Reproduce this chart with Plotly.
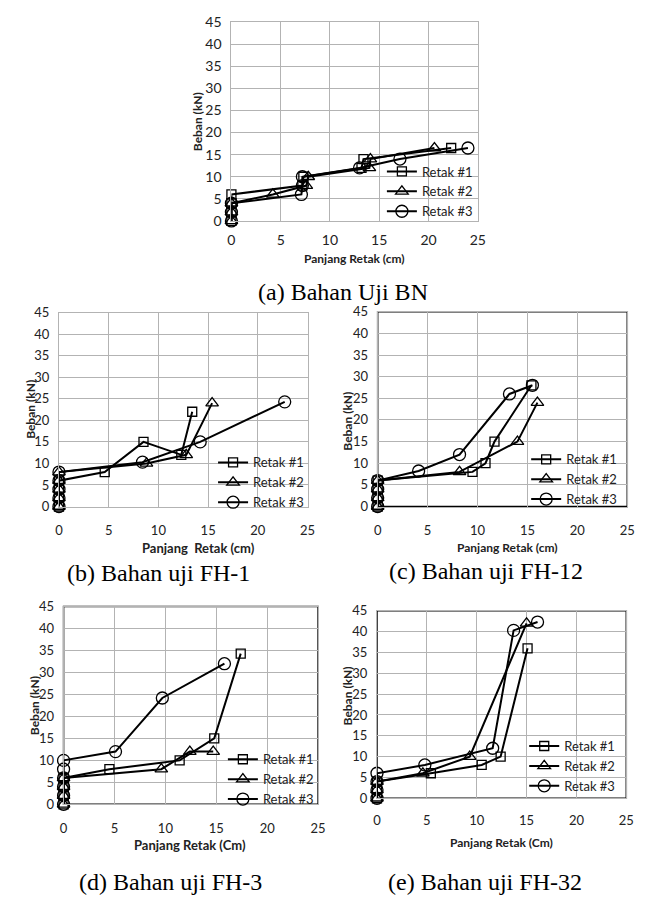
import plotly.graph_objects as go

# ---------------- data ----------------
X_TICKS = [0, 5, 10, 15, 20, 25]
Y_TICKS = [0, 5, 10, 15, 20, 25, 30, 35, 40, 45]
SERIES_NAMES = ["Retak #1", "Retak #2", "Retak #3"]

# (a) Bahan Uji BN
bn_r1_x = [0, 0, 0, 0, 7.2, 7.3, 13.2, 13.4, 22.3]
bn_r1_y = [0, 2, 4, 6, 8, 10, 12, 14, 16.5]
bn_r2_x = [0, 0, 0, 4.2, 7.6, 7.8, 14.0, 14.1, 20.6]
bn_r2_y = [0, 2, 4, 6, 8, 10, 12, 14, 16.5]
bn_r3_x = [0, 0, 0, 7.1, 7.2, 7.2, 13.0, 17.1, 24.0]
bn_r3_y = [0, 2, 4, 6, 8, 10, 12, 14, 16.5]

# (b) Bahan uji FH-1
fh1_r1_x = [0, 0, 0, 0, 4.6, 8.5, 12.3, 13.4]
fh1_r1_y = [0, 2, 4, 6, 8, 15, 12, 22]
fh1_r2_x = [0, 0, 0, 0, 0, 8.8, 12.8, 15.4]
fh1_r2_y = [0, 2, 4, 6, 8, 10, 12, 24]
fh1_r3_x = [0, 0, 0, 0, 0, 8.4, 14.2, 22.7]
fh1_r3_y = [0, 2, 4, 6, 8, 10.3, 15, 24.3]

# (c) Bahan uji FH-12
fh12_r1_x = [0, 0, 0, 0, 9.5, 10.8, 11.7, 15.4]
fh12_r1_y = [0, 2, 4, 6, 8, 10, 15, 28]
fh12_r2_x = [0, 0, 0, 0, 8.2, 14.0, 16.0]
fh12_r2_y = [0, 2, 4, 6, 8, 15, 24]
fh12_r3_x = [0, 0, 0, 0, 4.1, 8.2, 13.2, 15.5]
fh12_r3_y = [0, 2, 4, 6, 8.2, 12, 26, 28]

# (d) Bahan uji FH-3
fh3_r1_x = [0, 0, 0, 0, 4.5, 11.4, 14.8, 17.4]
fh3_r1_y = [0, 2, 4, 6, 8, 10, 15, 34.3]
fh3_r2_x = [0, 0, 0, 0, 9.6, 12.4, 14.7]
fh3_r2_y = [0, 2, 4, 6, 8, 12, 12]
fh3_r3_x = [0, 0, 0, 0, 0, 0, 5.1, 9.7, 15.8]
fh3_r3_y = [0, 2, 4, 6, 8, 10, 12, 24.2, 32]

# (e) Bahan uji FH-32
fh32_r1_x = [0, 0, 0, 5.4, 10.5, 12.4, 15.1]
fh32_r1_y = [0, 2, 4, 6, 8, 10, 36]
fh32_r2_x = [0, 0, 0, 4.6, 9.3, 15.0]
fh32_r2_y = [0, 2, 4, 6, 10, 42]
fh32_r3_x = [0, 0, 0, 0, 4.8, 11.6, 13.7, 16.1]
fh32_r3_y = [0, 2, 4, 6, 8, 12, 40.3, 42.3]

CAPTIONS = ["(a) Bahan Uji BN", "(b) Bahan uji FH-1", "(c) Bahan uji FH-12",
            "(d) Bahan uji FH-3", "(e) Bahan uji FH-32"]
X_TITLES = ["Panjang Retak (cm)", "Panjang  Retak (cm)", "Panjang Retak (cm)",
            "Panjang Retak (Cm)", "Panjang Retak (Cm)"]
Y_TITLE = "Beban (kN)"

PANEL_DATA = [
    [(bn_r1_x, bn_r1_y), (bn_r2_x, bn_r2_y), (bn_r3_x, bn_r3_y)],
    [(fh1_r1_x, fh1_r1_y), (fh1_r2_x, fh1_r2_y), (fh1_r3_x, fh1_r3_y)],
    [(fh12_r1_x, fh12_r1_y), (fh12_r2_x, fh12_r2_y), (fh12_r3_x, fh12_r3_y)],
    [(fh3_r1_x, fh3_r1_y), (fh3_r2_x, fh3_r2_y), (fh3_r3_x, fh3_r3_y)],
    [(fh32_r1_x, fh32_r1_y), (fh32_r2_x, fh32_r2_y), (fh32_r3_x, fh32_r3_y)],
]

# ---------------- layout geometry (pixels) ----------------
W, H = 650, 908
# left, right, top, bottom of each plot area
BOXES = [
    (231.7, 482.7, 13.3, 216.0),
    (56.0, 309.3, 309.5, 507.0),
    (380.7, 635.0, 308.5, 507.0),
    (60.7, 320.0, 609.0, 810.5),
    (380.0, 634.0, 613.3, 804.3),
]
TICK_FONT = [14, 13, 13, 13, 13]
XTICK_STANDOFF = [6, 12, 12, 12, 10]
XTITLE_POS = [(357, 254, 12), (198, 549, 13), (513, 549, 12), (190, 852, 13), (507, 849, 12)]
YTITLE_POS = [(198, 115), (27, 408), (350, 420), (31, 710), (350, 700)]
CAPTION_POS = [(345, 288), (157, 575), (491, 573), (170, 890), (490, 890)]
LEGEND_POS = [(385, 186), (213, 482.5), (532, 479.3), (223, 785), (530, 771.5)]
BLACK_FRAME = [False, False, True, True, True]

SYMBOLS = ["square-open", "triangle-up-open", "circle-open"]
SIZES = [9, 11, 12]

fig = go.Figure()
layout = dict(width=W, height=H, margin=dict(l=0, r=0, t=0, b=0),
              paper_bgcolor="white", plot_bgcolor="white", showlegend=True)
annotations = []
shapes = []
GRID = "#b3b3b3"

for i in range(5):
    l, r, t, b = BOXES[i]
    xa = "xaxis" if i == 0 else f"xaxis{i+1}"
    ya = "yaxis" if i == 0 else f"yaxis{i+1}"
    xr = "x" if i == 0 else f"x{i+1}"
    yr = "y" if i == 0 else f"y{i+1}"
    lg = "legend" if i == 0 else f"legend{i+1}"
    layout[xa] = dict(domain=[l / W, r / W], anchor=yr, range=[0, 25],
                      tickvals=X_TICKS, ticktext=[str(v) for v in X_TICKS],
                      showgrid=True, gridcolor=GRID, gridwidth=1,
                      zeroline=False, showline=True, linecolor=GRID, linewidth=1,
                      mirror=True, ticks="", ticklabelstandoff=XTICK_STANDOFF[i],
                      tickfont=dict(family="Lato", size=TICK_FONT[i], color="#222"),
                      fixedrange=True)
    layout[ya] = dict(domain=[1 - b / H, 1 - t / H], anchor=xr, range=[0, 45],
                      tickvals=Y_TICKS, ticktext=[str(v) for v in Y_TICKS],
                      showgrid=True, gridcolor=GRID, gridwidth=1,
                      zeroline=False, showline=True, linecolor=GRID, linewidth=1,
                      mirror=True, ticks="", ticklabelstandoff=6,
                      tickfont=dict(family="Lato", size=TICK_FONT[i], color="#222"),
                      fixedrange=True)
    lx, ly = LEGEND_POS[i]
    layout[lg] = dict(x=lx / W, y=1 - ly / H, xanchor="left", yanchor="middle",
                      xref="paper", yref="paper",
                      bgcolor="rgba(0,0,0,0)", borderwidth=0,
                      font=dict(family="Lato", size=13, color="#222"),
                      itemwidth=30, tracegroupgap=0)
    for k, (xs, ys) in enumerate(PANEL_DATA[i]):
        fig.add_trace(go.Scatter(
            x=xs, y=ys, mode="lines+markers", name=SERIES_NAMES[k],
            xaxis=xr, yaxis=yr, legend=lg, cliponaxis=False,
            line=dict(color="black", width=2),
            marker=dict(symbol=SYMBOLS[k], size=SIZES[k], color="black",
                        line=dict(color="black", width=1.3)),
        ))
    if BLACK_FRAME[i]:
        shapes.append(dict(type="rect", xref=f"{xr} domain", yref=f"{yr} domain",
                           x0=0, x1=1, y0=0, y1=1,
                           line=dict(color="black", width=1.5), layer="below"))
    tx, ty, ts = XTITLE_POS[i]
    annotations.append(dict(x=tx / W, y=1 - ty / H, xref="paper", yref="paper",
                            text=f"<b>{X_TITLES[i]}</b>", showarrow=False,
                            font=dict(family="Lato", size=ts, color="#222"),
                            xanchor="center", yanchor="middle"))
    yx, yy = YTITLE_POS[i]
    annotations.append(dict(x=yx / W, y=1 - yy / H, xref="paper", yref="paper",
                            text=f"<b>{Y_TITLE}</b>", showarrow=False, textangle=-90,
                            font=dict(family="Lato", size=12, color="#222"),
                            xanchor="center", yanchor="middle"))
    cx, cy = CAPTION_POS[i]
    annotations.append(dict(x=cx / W, y=1 - cy / H, xref="paper", yref="paper",
                            text=CAPTIONS[i], showarrow=False,
                            font=dict(family="Liberation Serif", size=24, color="black"),
                            xanchor="center", yanchor="middle"))

layout["annotations"] = annotations
layout["shapes"] = shapes
fig.update_layout(**layout)
fig.write_html("out.html",
               config={"displayModeBar": False, "staticPlot": True},
               post_script="document.body.style.margin='0';document.body.style.overflow='hidden';")
